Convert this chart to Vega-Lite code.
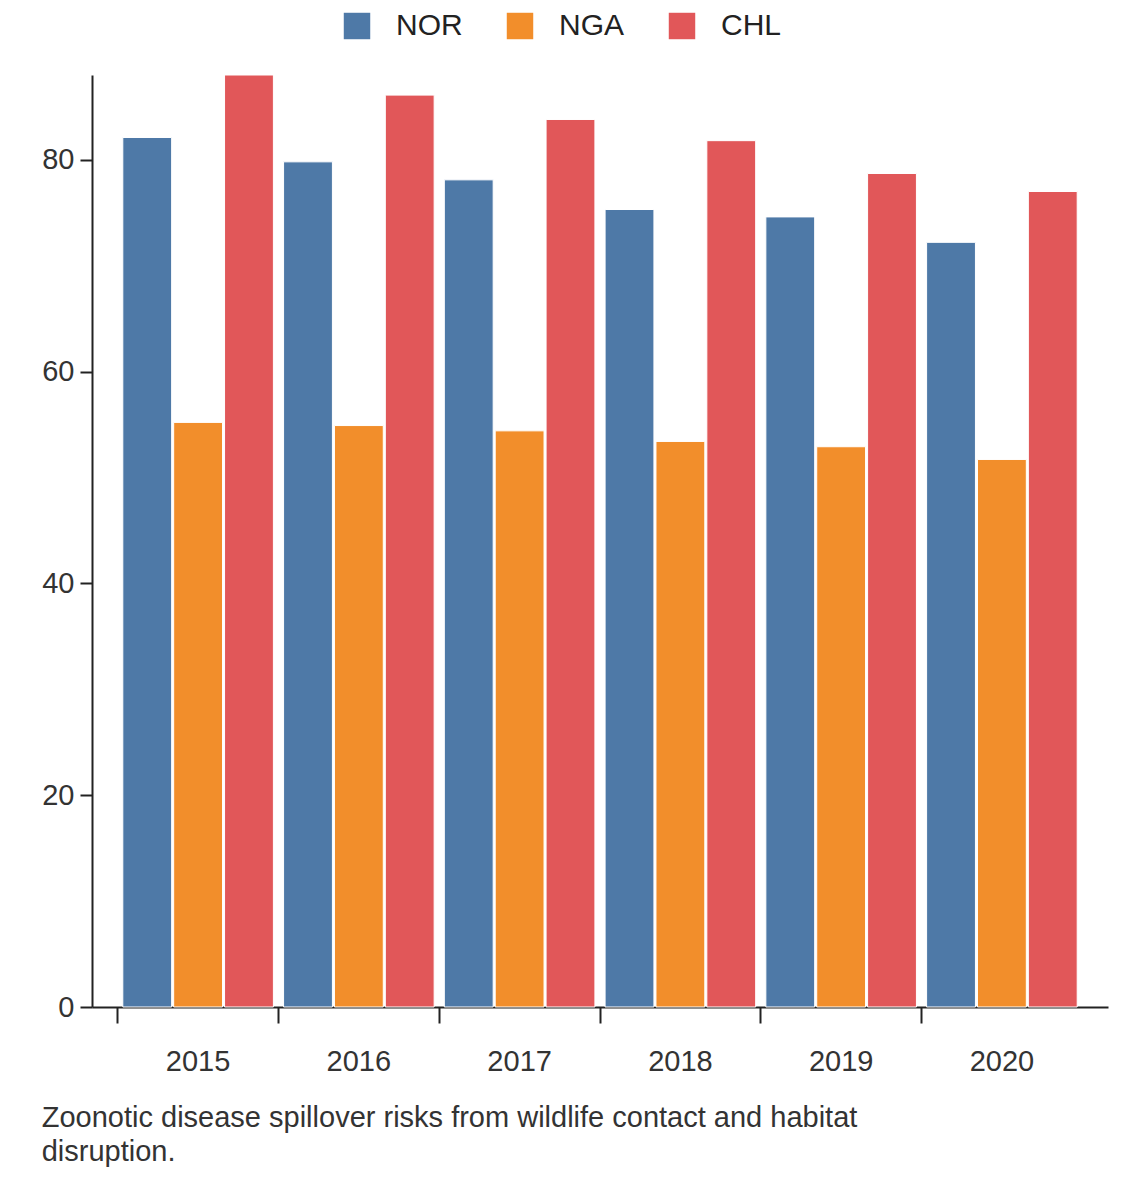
{
"$schema":"https://vega.github.io/schema/vega-lite/v6.json",
"width":1016,"height":932,
"autosize":"none",
"padding":{"left":92,"top":75,"right":32,"bottom":175},
"background":"white",
"config":{"font":"Liberation Sans","view":{"stroke":null}},
"title":{"text":["Zoonotic disease spillover risks from wildlife contact and habitat","disruption."],"orient":"bottom","anchor":"start","fontSize":29,"fontWeight":"normal","color":"#333","offset":28,"lineHeight":34,"dx":0},
"data":{"values":[
{"year":"2015","c":"NOR","v":82.1},{"year":"2015","c":"NGA","v":55.2},{"year":"2015","c":"CHL","v":88.0},
{"year":"2016","c":"NOR","v":79.8},{"year":"2016","c":"NGA","v":54.9},{"year":"2016","c":"CHL","v":86.1},
{"year":"2017","c":"NOR","v":78.1},{"year":"2017","c":"NGA","v":54.4},{"year":"2017","c":"CHL","v":83.8},
{"year":"2018","c":"NOR","v":75.3},{"year":"2018","c":"NGA","v":53.4},{"year":"2018","c":"CHL","v":81.8},
{"year":"2019","c":"NOR","v":74.6},{"year":"2019","c":"NGA","v":52.9},{"year":"2019","c":"CHL","v":78.7},
{"year":"2020","c":"NOR","v":72.2},{"year":"2020","c":"NGA","v":51.7},{"year":"2020","c":"CHL","v":77.0}
]},
"mark":{"type":"bar","stroke":"white","strokeWidth":1},
"encoding":{
"x":{"field":"year","type":"nominal","scale":{"paddingInner":0,"paddingOuter":0.16},
"axis":{"title":null,"labelAngle":0,"labelFontSize":29,"labelColor":"#333","labelPadding":24,"tickSize":16,"tickWidth":2,"tickColor":"#222","domainColor":"#222","domainWidth":2,"bandPosition":0}},
"xOffset":{"field":"c","type":"nominal","sort":["NOR","NGA","CHL"],"scale":{"paddingInner":0.04,"paddingOuter":0.1}},
"y":{"field":"v","type":"quantitative","scale":{"domain":[0,88],"nice":false},
"axis":{"title":null,"values":[0,20,40,60,80],"labelFontSize":29,"labelColor":"#333","grid":false,"tickSize":12,"tickWidth":2,"tickColor":"#222","domainColor":"#222","domainWidth":2,"labelPadding":6}},
"color":{"field":"c","type":"nominal","sort":["NOR","NGA","CHL"],"scale":{"domain":["NOR","NGA","CHL"],"range":["#4e79a7","#f28e2b","#e15759"]},
"legend":{"title":null,"orient":"none","legendX":250,"legendY":-64,"direction":"horizontal","labelFontSize":30,"labelColor":"#222","symbolType":"square","symbolSize":700,"symbolStrokeWidth":0,"columnPadding":42,"labelOffset":24}}
}
}
